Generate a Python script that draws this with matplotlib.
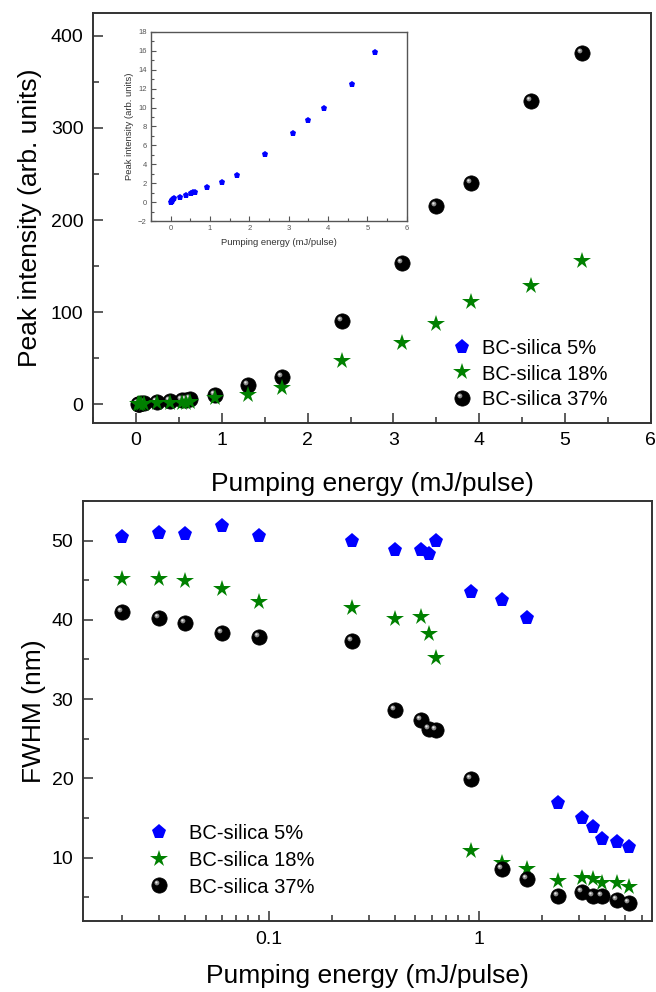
import matplotlib
matplotlib.use("Agg")
import matplotlib.pyplot as plt
import numpy as np
from matplotlib.markers import MarkerStyle
from matplotlib.transforms import Affine2D
from matplotlib.ticker import MultipleLocator

plt.rcParams['font.family'] = ['Liberation Sans', 'DejaVu Sans']

energy = [0.02, 0.03, 0.04, 0.06, 0.09, 0.25, 0.4, 0.53, 0.58, 0.63,
          0.92, 1.3, 1.7, 2.4, 3.1, 3.5, 3.9, 4.6, 5.2]

peak_5 = [0.05, 0.1, 0.2, 0.3, 0.4, 0.6, 0.8, 1.0, 1.1, 1.1,
          1.6, 2.1, 2.9, 5.1, 7.3, 8.7, 9.9, 12.5, 15.9]
peak_18 = [0.1, 0.2, 0.3, 0.4, 0.5, 0.9, 1.2, 1.5, 1.7, 2.0,
           6.5, 10.5, 17.5, 47, 66, 87, 111, 128, 155]
peak_37 = [0.2, 0.4, 0.6, 0.9, 1.2, 2.5, 3.5, 4.5, 5.0, 5.5,
           9.5, 21, 29, 90, 153, 215, 240, 329, 381]

fwhm_5 = [50.5, 50.9, 50.8, 51.9, 50.6, 50.0, 48.8, 48.8, 48.3, 49.9,
          43.5, 42.5, 40.2, 16.9, 15.0, 13.9, 12.4, 12.0, 11.3]
fwhm_18 = [45.1, 45.1, 44.9, 43.9, 42.2, 41.5, 40.1, 40.3, 38.2, 35.2,
           10.8, 9.3, 8.5, 7.0, 7.4, 7.3, 6.8, 6.8, 6.3]
fwhm_37 = [41.0, 40.2, 39.6, 38.3, 37.8, 37.3, 28.6, 27.3, 26.2, 26.1,
           19.9, 8.5, 7.3, 5.2, 5.6, 5.2, 5.1, 4.7, 4.3]

labels = ["BC-silica 5%", "BC-silica 18%", "BC-silica 37%"]
blue = "#0000ff"
green = "#008000"
frame = "#333333"

hl = MarkerStyle('o', transform=Affine2D().scale(0.32).translate(-0.17, 0.17))
dot = MarkerStyle('o', transform=Affine2D().scale(0.14).translate(-0.2, 0.2))


def spheres(ax, x, y, ms):
    a, = ax.plot(x, y, 'o', color='black', ms=ms, mec='black', mew=0.5, ls='none')
    b, = ax.plot(x, y, ls='none', marker=hl, color='#8a8a8a', ms=ms, mew=0)
    c, = ax.plot(x, y, ls='none', marker=dot, color='#e8e8e8', ms=ms, mew=0)
    return (a, b, c)


def style(ax, size=14, color=frame, lw=1.4):
    for s in ax.spines.values():
        s.set_color(color)
        s.set_linewidth(lw)
    ax.tick_params(which='both', direction='in', top=False, right=False,
                   labelsize=size, color=color, width=lw * 0.8)
    ax.tick_params(which='major', length=7, pad=7)
    ax.tick_params(which='minor', length=4)


fig = plt.figure(figsize=(6.56, 9.92), dpi=100)

# top panel: 5% only shown in the inset
ax1 = fig.add_axes([0.142, 0.574, 0.850, 0.413])
h3 = spheres(ax1, energy, peak_37, 11)
h2, = ax1.plot(energy, peak_18, '*', color=green, ms=13, mew=0, ls='none')
h1, = ax1.plot([], [], 'p', color=blue, ms=11, mew=0, ls='none')
ax1.set_xlim(-0.5, 6)
ax1.set_ylim(-20, 425)
ax1.xaxis.set_major_locator(MultipleLocator(1))
ax1.xaxis.set_minor_locator(MultipleLocator(0.5))
ax1.yaxis.set_major_locator(MultipleLocator(100))
ax1.yaxis.set_minor_locator(MultipleLocator(50))
style(ax1)
ax1.set_xlabel("Pumping energy (mJ/pulse)", fontsize=19, labelpad=16)
ax1.set_ylabel("Peak intensity (arb. units)", fontsize=19, labelpad=6)
ax1.legend([h1, h2, h3], labels, loc='lower right', bbox_to_anchor=(0.955, -0.01),
           frameon=False, fontsize=14.5, handletextpad=0.4, labelspacing=0.3,
           handlelength=1.2)

# inset
ins = fig.add_axes([0.230, 0.777, 0.390, 0.191])
ins.plot(energy, peak_5, 'p', color=blue, ms=5, mew=0, ls='none')
ins.set_xlim(-0.5, 6)
ins.set_ylim(-2, 18)
ins.xaxis.set_major_locator(MultipleLocator(1))
ins.xaxis.set_minor_locator(MultipleLocator(0.5))
ins.yaxis.set_major_locator(MultipleLocator(2))
ins.yaxis.set_minor_locator(MultipleLocator(1))
style(ins, size=5.5, color='#555555', lw=1.0)
ins.tick_params(which='major', length=3.5, pad=3, labelcolor='#555555')
ins.tick_params(which='minor', length=2)
ins.set_xlabel("Pumping energy (mJ/pulse)", fontsize=6.8, color='#333333', labelpad=4)
ins.set_ylabel("Peak intensity (arb. units)", fontsize=6.8, color='#333333', labelpad=3)

# bottom panel
ax2 = fig.add_axes([0.1265, 0.0716, 0.867, 0.4234])
g1, = ax2.plot(energy, fwhm_5, 'p', color=blue, ms=11, mew=0, ls='none')
g2, = ax2.plot(energy, fwhm_18, '*', color=green, ms=13, mew=0, ls='none')
g3 = spheres(ax2, energy, fwhm_37, 11)
ax2.set_xscale('log')
ax2.set_xlim(0.013, 6.7)
ax2.set_ylim(2, 55)
ax2.yaxis.set_major_locator(MultipleLocator(10))
ax2.yaxis.set_minor_locator(MultipleLocator(5))
ax2.set_xticks([0.1, 1])
ax2.set_xticklabels(["0.1", "1"])
style(ax2)
ax2.set_xlabel("Pumping energy (mJ/pulse)", fontsize=19, labelpad=12)
ax2.set_ylabel("FWHM (nm)", fontsize=19, labelpad=4)
ax2.legend([g1, g2, g3], labels, loc='lower left', bbox_to_anchor=(0.08, 0.015),
           frameon=False, fontsize=14.5, handletextpad=0.9, labelspacing=0.38,
           handlelength=1.2)

fig.savefig("out.png", dpi=100)
